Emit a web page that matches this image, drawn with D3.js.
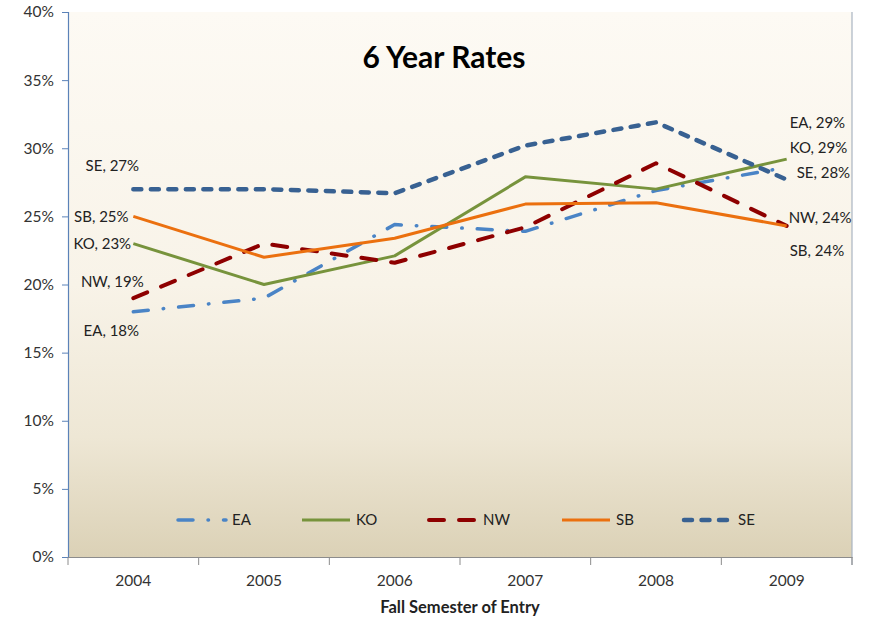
<!DOCTYPE html>
<meta charset="utf-8">
<style>
body {
	margin: 0;
	background-color: white;
}
text {
	font-family: Lato, "Open Sans", sans-serif;
	fill: #222;
}
.tick text {
	font-size: 15.5px;
	fill: #333;
}
.dataLabel {
	font-size: 15px;
}
</style>
<html>
	<head>
		<title>6 Year Rates</title>
		<script src="https://cdn.jsdelivr.net/npm/d3@7"></script>
	</head>
	<body>
		<svg id="svgchart"></svg>

<script>
'use strict'

// data
const years = ["2004", "2005", "2006", "2007", "2008", "2009"]
const seriesNames = ["EA", "KO", "NW", "SB", "SE"]
const eaValues = [0.180, 0.190, 0.244, 0.239, 0.269, 0.286]
const koValues = [0.230, 0.200, 0.221, 0.279, 0.270, 0.292]
const nwValues = [0.190, 0.230, 0.216, 0.242, 0.289, 0.243]
const sbValues = [0.250, 0.220, 0.234, 0.259, 0.260, 0.243]
const seValues = [0.270, 0.270, 0.267, 0.302, 0.319, 0.277]
const yTicks = [0, 0.05, 0.10, 0.15, 0.20, 0.25, 0.30, 0.35, 0.40]

const chartWidth = 872,
      chartHeight = 622,
      margin = {top: 12, right: 20, bottom: 65, left: 68}

// line styles per series
const styles = {
	EA: {color: "#4a84c6", width: 3.5, dash: "15 15 0.5 15"},
	KO: {color: "#77933c", width: 3, dash: null},
	NW: {color: "#8e0000", width: 4, dash: "15 15"},
	SB: {color: "#eb700f", width: 3, dash: null},
	SE: {color: "#386192", width: 4.5, dash: "8 9.5"}
}

// label offsets from the first / last point (layout only)
const startLabelOffset = {
	EA: [-22, 19], KO: [-31, 0], NW: [-21, -16], SB: [-32, 0], SE: [-21, -23]
}
const endLabelOffset = {
	EA: [3, -45], KO: [3, -11], NW: [2, -8], SB: [3, 25], SE: [10, -7]
}

const series = seriesNames.map((name, i) => ({
	name: name,
	values: [eaValues, koValues, nwValues, sbValues, seValues][i]
}))

const svg = d3.select("#svgchart")
	.attr("width", chartWidth)
	.attr("height", chartHeight)

const plotWidth = 852 - margin.left,
      plotHeight = 557 - margin.top

const x = d3.scaleBand().domain(years).range([margin.left, margin.left + plotWidth])
const y = d3.scaleLinear().domain([0, 0.4]).range([margin.top + plotHeight, margin.top])

// background gradient of the plot area
const grad = svg.append("defs").append("linearGradient")
	.attr("id", "bg").attr("x1", 0).attr("y1", 0).attr("x2", 0).attr("y2", 1)
grad.append("stop").attr("offset", "0%").attr("stop-color", "#fdfaf4")
grad.append("stop").attr("offset", "50%").attr("stop-color", "#f8f3e8")
grad.append("stop").attr("offset", "78%").attr("stop-color", "#eee7d5")
grad.append("stop").attr("offset", "100%").attr("stop-color", "#dbd1b6")

svg.append("rect")
	.attr("x", margin.left)
	.attr("y", margin.top)
	.attr("width", plotWidth)
	.attr("height", plotHeight)
	.attr("fill", "url(#bg)")

// right border of plot area
svg.append("line")
	.attr("x1", margin.left + plotWidth).attr("x2", margin.left + plotWidth)
	.attr("y1", margin.top).attr("y2", margin.top + plotHeight + 8)
	.attr("stroke", "#a9b4c2").attr("stroke-width", 1.2)

// y axis
const yAxis = svg.append("g")
	.attr("transform", "translate(" + margin.left + ",0)")
	.call(d3.axisLeft(y).tickValues(yTicks).tickFormat(d3.format(".0%")).tickSize(6).tickPadding(8))
yAxis.select(".domain").attr("stroke", "#5b82b8").attr("stroke-width", 1.2)
yAxis.selectAll(".tick line").attr("stroke", "#5b82b8")

// x axis, ticks on band boundaries
const xAxis = svg.append("g")
	.attr("transform", "translate(0," + (margin.top + plotHeight) + ")")
	.call(d3.axisBottom(x).tickSize(0).tickPadding(16))
xAxis.select(".domain").attr("stroke", "#8c8c8c").attr("stroke-width", 1.2)
xAxis.selectAll(".tick text").attr("dy", "0.85em")
xAxis.selectAll(".boundary")
	.data(years.concat(["end"]))
	.enter().append("line")
	.attr("x1", (d, i) => margin.left + i * x.bandwidth())
	.attr("x2", (d, i) => margin.left + i * x.bandwidth())
	.attr("y1", 0).attr("y2", 8)
	.attr("stroke", "#8c8c8c")

// lines
const line = d3.line()
	.x((d, i) => x(years[i]) + x.bandwidth() / 2)
	.y(d => y(d))

svg.append("g").selectAll("path")
	.data(series)
	.enter().append("path")
	.attr("d", d => line(d.values))
	.attr("fill", "none")
	.attr("stroke", d => styles[d.name].color)
	.attr("stroke-width", d => styles[d.name].width)
	.attr("stroke-dasharray", d => styles[d.name].dash)
	.attr("stroke-linecap", d => styles[d.name].dash ? "round" : "butt")
	.attr("stroke-linejoin", "round")

// data labels
const pct = d3.format(".0%")
const labels = svg.append("g")
series.forEach(s => {
	const first = s.values[0], last = s.values[s.values.length - 1]
	labels.append("text")
		.attr("class", "dataLabel")
		.attr("x", x(years[0]) + x.bandwidth() / 2 + startLabelOffset[s.name][0])
		.attr("y", y(first) + startLabelOffset[s.name][1])
		.attr("text-anchor", "middle")
		.attr("dy", "0.35em")
		.text(s.name + ", " + pct(first))
	labels.append("text")
		.attr("class", "dataLabel")
		.attr("x", x(years[years.length - 1]) + x.bandwidth() / 2 + endLabelOffset[s.name][0])
		.attr("y", y(last) + endLabelOffset[s.name][1])
		.attr("text-anchor", "start")
		.attr("dy", "0.35em")
		.text(s.name + ", " + pct(last))
})

// title
svg.append("text")
	.attr("x", 444)
	.attr("y", 68)
	.attr("text-anchor", "middle")
	.style("font-size", "30px")
	.style("font-weight", "bold")
	.style("fill", "#000")
	.text("6 Year Rates")

// x axis title
svg.append("text")
	.attr("x", 460)
	.attr("y", 613)
	.attr("text-anchor", "middle")
	.style("font-size", "16.5px")
	.style("font-weight", "bold")
	.text("Fall Semester of Entry")

// legend
const legendX = [176, 300, 427, 560, 682]
const legend = svg.append("g").attr("transform", "translate(0,520)")
series.forEach((s, i) => {
	const st = styles[s.name]
	legend.append("line")
		.attr("x1", legendX[i] + 2).attr("x2", legendX[i] + 50)
		.attr("y1", 0).attr("y2", 0)
		.attr("stroke", st.color)
		.attr("stroke-width", st.width)
		.attr("stroke-dasharray", st.dash)
		.attr("stroke-linecap", st.dash ? "round" : "butt")
	legend.append("text")
		.attr("x", legendX[i] + 56)
		.attr("y", 0)
		.attr("dy", "0.35em")
		.style("font-size", "15px")
		.text(s.name)
})
</script>

	</body>
</html>
